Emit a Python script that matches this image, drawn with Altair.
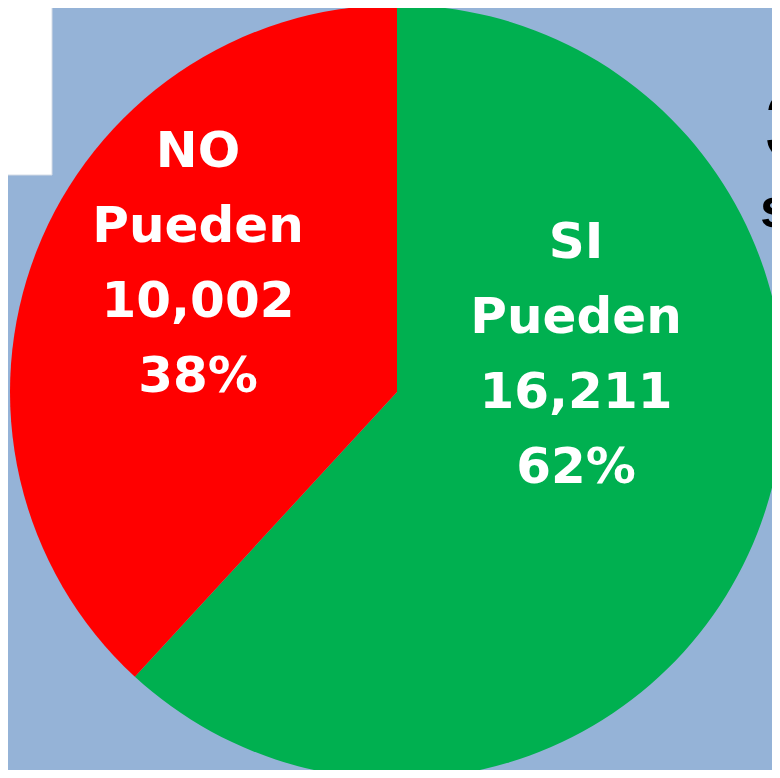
import altair as alt
import pandas as pd

categories = ["SI", "NO"]
values = [16211, 10002]
percents = ["62%", "38%"]
word = "Pueden"

df = pd.DataFrame({
    "cat": categories,
    "value": values,
    "order": [0, 1],
    "label": [f"{c}\n{word}\n{v:,}\n{p}" for c, v, p in zip(categories, values, percents)],
})

W, H = 764, 762
CX, CY, R = 389, 384, 387

base = alt.Chart(df)

pie = base.mark_arc(radius=R, stroke=None).encode(
    x=alt.value(CX),
    y=alt.value(CY),
    theta=alt.Theta("value:Q", stack=True),
    order=alt.Order("order:Q"),
    color=alt.Color("cat:N", scale=alt.Scale(domain=categories, range=["#00B050", "#FF0000"]), legend=None),
)

def label_layer(cat, x, y):
    return base.transform_filter(alt.datum.cat == cat).mark_text(
        font="DejaVu Sans", fontWeight="bold", fontSize=50, color="white",
        align="center", baseline="alphabetic", lineBreak="\n", lineHeight=75,
    ).encode(x=alt.value(x), y=alt.value(y), text="label:N")

no_label = label_layer("NO", 190, 159)
si_label = label_layer("SI", 568, 250)

white_box = base.transform_filter(alt.datum.cat == "SI").mark_rect(color="white", stroke="#d5dce6", strokeWidth=1).encode(
    x=alt.value(-5), x2=alt.value(44), y=alt.value(-5), y2=alt.value(167)
)

frag1 = base.transform_filter(alt.datum.cat == "SI").mark_text(
    text="3", font="Liberation Sans", fontWeight="bold", fontSize=95, color="black",
    align="left", baseline="alphabetic",
).encode(x=alt.value(757), y=alt.value(150))

frag2 = base.transform_filter(alt.datum.cat == "SI").mark_text(
    text="s", font="Liberation Sans", fontWeight="bold", fontSize=55, color="black",
    align="left", baseline="alphabetic",
).encode(x=alt.value(752), y=alt.value(219))

chart = alt.layer(white_box, pie, no_label, si_label, frag1, frag2).properties(
    width=W, height=H,
    autosize=alt.AutoSizeParams(type="none"),
    padding=0,
    background="#95B3D7",
).configure_view(stroke=None)

chart.save("out.html", embed_options={"renderer": "svg", "actions": False})
